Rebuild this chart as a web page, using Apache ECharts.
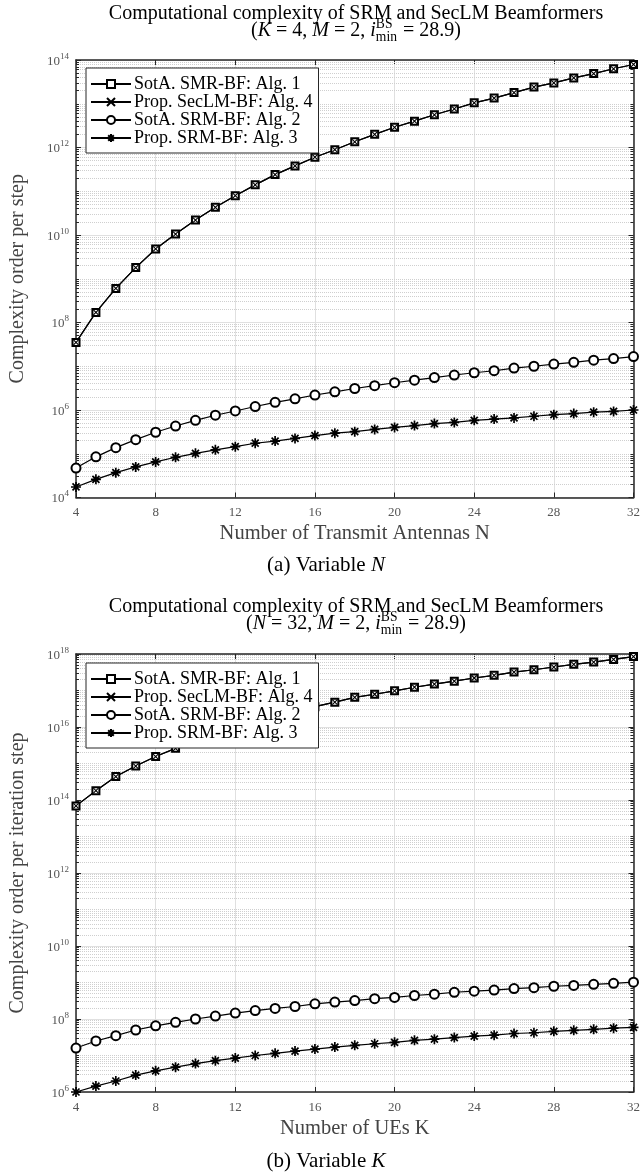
<!DOCTYPE html>
<html lang="en">
<head>
<meta charset="UTF-8">
<title>Computational complexity of SRM and SecLM Beamformers</title>
<style>
    html, body { margin: 0; padding: 0; background: #fff; }
    #main { width: 643px; height: 1176px; }
</style>
</head>
<body>
<div id="main"></div>
<script src="https://cdn.jsdelivr.net/npm/echarts@6/dist/echarts.min.js"></script>
<script type="text/javascript">
var antennasN = [4, 5, 6, 7, 8, 9, 10, 11, 12, 13, 14, 15, 16, 17, 18, 19, 20, 21, 22, 23, 24, 25, 26, 27, 28, 29, 30, 31, 32];
var usersK = [4, 5, 6, 7, 8, 9, 10, 11, 12, 13, 14, 15, 16, 17, 18, 19, 20, 21, 22, 23, 24, 25, 26, 27, 28, 29, 30, 31, 32];

// (a) variable N
var smrVsN = [3.5e7, 1.7e8, 6.0e8, 1.8e9, 4.8e9, 1.05e10, 2.2e10, 4.3e10, 7.9e10, 1.4e11, 2.4e11, 3.8e11, 6.0e11, 8.9e11, 1.35e12, 2.0e12, 2.9e12, 4.0e12, 5.6e12, 7.6e12, 1.05e13, 1.35e13, 1.8e13, 2.4e13, 3.0e13, 3.9e13, 4.9e13, 6.3e13, 7.9e13];
var seclmVsN = [3.5e7, 1.7e8, 6.0e8, 1.8e9, 4.8e9, 1.05e10, 2.2e10, 4.3e10, 7.9e10, 1.4e11, 2.4e11, 3.8e11, 6.0e11, 8.9e11, 1.35e12, 2.0e12, 2.9e12, 4.0e12, 5.6e12, 7.6e12, 1.05e13, 1.35e13, 1.8e13, 2.4e13, 3.0e13, 3.9e13, 4.9e13, 6.3e13, 7.9e13];
var srm2VsN = [4.7e4, 8.5e4, 1.38e5, 2.1e5, 3.1e5, 4.3e5, 5.8e5, 7.6e5, 9.5e5, 1.2e6, 1.5e6, 1.8e6, 2.2e6, 2.6e6, 3.1e6, 3.6e6, 4.2e6, 4.8e6, 5.5e6, 6.3e6, 7.1e6, 7.9e6, 9.1e6, 1.0e7, 1.12e7, 1.23e7, 1.38e7, 1.5e7, 1.66e7];
var srm3VsN = [1.74e4, 2.6e4, 3.7e4, 5.0e4, 6.5e4, 8.3e4, 1.02e5, 1.23e5, 1.45e5, 1.74e5, 1.95e5, 2.24e5, 2.6e5, 2.95e5, 3.2e5, 3.6e5, 4.0e5, 4.4e5, 4.9e5, 5.2e5, 5.8e5, 6.2e5, 6.6e5, 7.2e5, 7.8e5, 8.3e5, 8.9e5, 9.3e5, 1.0e6];

// (b) variable K
var smrVsK = [6.9e13, 1.8e14, 4.4e14, 8.5e14, 1.55e15, 2.6e15, 4.0e15, 6.0e15, 8.9e15, 1.3e16, 1.8e16, 2.6e16, 3.6e16, 4.8e16, 6.5e16, 7.9e16, 9.8e16, 1.23e17, 1.5e17, 1.8e17, 2.2e17, 2.6e17, 3.2e17, 3.7e17, 4.4e17, 5.2e17, 6.0e17, 7.1e17, 8.5e17];
var seclmVsK = [6.9e13, 1.8e14, 4.4e14, 8.5e14, 1.55e15, 2.6e15, 4.0e15, 6.0e15, 8.9e15, 1.3e16, 1.8e16, 2.6e16, 3.6e16, 4.8e16, 6.5e16, 7.9e16, 9.8e16, 1.23e17, 1.5e17, 1.8e17, 2.2e17, 2.6e17, 3.2e17, 3.7e17, 4.4e17, 5.2e17, 6.0e17, 7.1e17, 8.5e17];
var srm2VsK = [1.6e7, 2.5e7, 3.5e7, 5.0e7, 6.5e7, 8.1e7, 1.0e8, 1.2e8, 1.45e8, 1.7e8, 1.95e8, 2.2e8, 2.6e8, 2.9e8, 3.2e8, 3.6e8, 3.9e8, 4.4e8, 4.8e8, 5.4e8, 5.8e8, 6.2e8, 6.8e8, 7.2e8, 7.9e8, 8.3e8, 8.9e8, 9.5e8, 1.02e9];
var srm3VsK = [1.0e6, 1.45e6, 2.0e6, 2.9e6, 3.8e6, 4.8e6, 6.0e6, 7.2e6, 8.5e6, 1.0e7, 1.15e7, 1.32e7, 1.5e7, 1.7e7, 1.9e7, 2.1e7, 2.3e7, 2.6e7, 2.8e7, 3.1e7, 3.4e7, 3.6e7, 4.0e7, 4.2e7, 4.6e7, 4.9e7, 5.2e7, 5.6e7, 5.9e7];

var seriesNames = ['SotA. SMR-BF: Alg. 1', 'Prop. SecLM-BF: Alg. 4', 'SotA. SRM-BF: Alg. 2', 'Prop. SRM-BF: Alg. 3'];

var serif = 'Liberation Serif';
var frame = '#262626';
var grey = '#555';

var myChart = echarts.init(document.getElementById('main'));

var ctx = document.createElement('canvas').getContext('2d');
function textWidth(str, size, italic) {
    ctx.font = (italic ? 'italic ' : '') + size + 'px "' + serif + '"';
    return ctx.measureText(str).width;
}

// pieces of a centred line of text, some italic, one optional stacked script
function textLine(parts, cx, cy, size) {
    var total = 0;
    parts.forEach(function (p) {
        if (p.sup) {
            p.w = Math.max(textWidth(p.sup, size * 0.68), textWidth(p.sub, size * 0.68)) + 1;
        } else {
            p.w = textWidth(p.t, size, p.it);
        }
        total += p.w;
    });
    var x = cx - total / 2;
    var els = [];
    parts.forEach(function (p) {
        if (p.sup) {
            els.push({ type: 'text', x: x, y: cy - 7, style: { text: p.sup, fontFamily: serif, fontSize: size * 0.68, fill: '#000', verticalAlign: 'middle' } });
            els.push({ type: 'text', x: x, y: cy + 6, style: { text: p.sub, fontFamily: serif, fontSize: size * 0.68, fill: '#000', verticalAlign: 'middle' } });
        } else {
            els.push({ type: 'text', x: x, y: cy, style: { text: p.t, fontFamily: serif, fontSize: size, fontStyle: p.it ? 'italic' : 'normal', fill: '#000', verticalAlign: 'middle' } });
        }
        x += p.w;
    });
    return els;
}

function subtitle(first, value, cy) {
    return textLine([
        { t: '(' }, { t: first, it: true }, { t: ' = ' + value + ', ' },
        { t: 'M', it: true }, { t: ' = 2, ' }, { t: 'i', it: true },
        { sup: 'BS', sub: 'min' }, { t: ' = 28.9)' }
    ], 356, cy, 20);
}

var graphics = [];
graphics.push({ type: 'text', x: 356, y: 14, style: { text: 'Computational complexity of SRM and SecLM Beamformers', fontFamily: serif, fontSize: 20, fill: '#000', align: 'center', verticalAlign: 'middle' } });
graphics = graphics.concat(subtitle('K', '4', 31));
graphics = graphics.concat(textLine([{ t: '(a) Variable ' }, { t: 'N', it: true }], 326, 565, 21));
graphics.push({ type: 'text', x: 356, y: 607, style: { text: 'Computational complexity of SRM and SecLM Beamformers', fontFamily: serif, fontSize: 20, fill: '#000', align: 'center', verticalAlign: 'middle' } });
graphics = graphics.concat(subtitle('N', '32', 624));
graphics = graphics.concat(textLine([{ t: '(b) Variable ' }, { t: 'K', it: true }], 326, 1161, 21));

var grids = [
    { left: 75, right: 6, top: 60, height: 437.5 },
    { left: 75, right: 6, top: 654, height: 438 }
];
var yRanges = [[1e4, 1e14], [1e6, 1e18]];
var xNames = ['Number of Transmit Antennas N', 'Number of UEs K'];
var yNames = ['Complexity order per step', 'Complexity order per iteration step'];

var xAxes = [], yAxes = [];
grids.forEach(function (g, i) {
    var line = { show: true, onZero: false, lineStyle: { color: frame, width: 1.5 } };
    var tick = { show: true, inside: true, length: 5, lineStyle: { color: frame, width: 1 } };
    xAxes.push({
        gridIndex: i, type: 'value', min: 4, max: 32, interval: 4, position: 'bottom',
        name: xNames[i], nameLocation: 'middle', nameGap: 26,
        nameTextStyle: { fontFamily: serif, fontSize: 20.5, color: '#444' },
        axisLine: line, axisTick: tick,
        axisLabel: { fontFamily: serif, fontSize: 13, color: grey, margin: 9 },
        splitLine: { show: true, lineStyle: { color: '#e0e0e0', width: 1 } }
    });
    xAxes.push({
        gridIndex: i, type: 'value', min: 4, max: 32, interval: 4, position: 'top',
        axisLine: line, axisTick: tick, axisLabel: { show: false }, splitLine: { show: false }
    });
    yAxes.push({
        gridIndex: i, type: 'log', logBase: 10, min: yRanges[i][0], max: yRanges[i][1], interval: 2, position: 'left',
        name: yNames[i], nameLocation: 'middle', nameGap: 48,
        nameTextStyle: { fontFamily: serif, fontSize: 20, color: '#444' },
        axisLine: line, axisTick: tick,
        axisLabel: {
            margin: 7,
            formatter: function (v) {
                return '{b|10}{s|' + Math.round(Math.log10(v)) + '}';
            },
            rich: {
                b: { fontFamily: serif, fontSize: 13, color: grey, lineHeight: 16, verticalAlign: 'bottom' },
                s: { fontFamily: serif, fontSize: 9, color: grey, lineHeight: 16, verticalAlign: 'top' }
            }
        },
        splitLine: { show: true, lineStyle: { color: '#e0e0e0', width: 1 } }
    });
    yAxes.push({
        gridIndex: i, type: 'log', logBase: 10, min: yRanges[i][0], max: yRanges[i][1], interval: 2, position: 'right',
        axisLine: line, axisTick: tick, axisLabel: { show: false }, splitLine: { show: false }
    });
});

// minor decade grid lines and minor ticks at m * 10^k
function minorValues(range) {
    var out = [];
    var lo = Math.round(Math.log10(range[0])), hi = Math.round(Math.log10(range[1]));
    for (var k = lo; k < hi; k++) {
        for (var m = 1; m <= 9; m++) {
            if (m === 1 && (k - lo) % 2 === 0) continue;
            out.push(m * Math.pow(10, k));
        }
    }
    return out;
}

function lineSeries(name, xs, ys, gi, kind) {
    var s = {
        name: name, type: 'line', xAxisIndex: 2 * gi, yAxisIndex: 2 * gi, z: 3,
        data: xs.map(function (x, i) { return [x, ys[i]]; }),
        lineStyle: { color: '#000', width: 1.2, type: 'solid' },
        itemStyle: { color: '#000', borderColor: '#000', borderWidth: 1 },
        symbolKeepAspect: true,
        emphasis: { disabled: true },
        animation: false
    };
    if (kind === 'square') { s.symbol = 'emptyRect'; s.symbolSize = 7; }
    if (kind === 'cross') { s.symbol = 'path://M0,0L10,10M10,0L0,10'; s.symbolSize = 5; s.itemStyle.borderWidth = 1.1; }
    if (kind === 'circle') { s.symbol = 'emptyCircle'; s.symbolSize = 9; }
    if (kind === 'star') { s.symbol = 'path://M5,0L5,10M0,5L10,5M1.5,1.5L8.5,8.5M8.5,1.5L1.5,8.5'; s.symbolSize = 10; s.itemStyle.borderWidth = 1.7; }
    return s;
}

var series = [];
var sets = [
    [antennasN, smrVsN, seclmVsN, srm2VsN, srm3VsN],
    [usersK, smrVsK, seclmVsK, srm2VsK, srm3VsK]
];
sets.forEach(function (d, gi) {
    var minors = minorValues(yRanges[gi]);
    var tickData = [];
    minors.forEach(function (v) {
        tickData.push([{ coord: [4, v] }, { coord: [4.15, v] }]);
        tickData.push([{ coord: [31.85, v] }, { coord: [32, v] }]);
    });
    var first = lineSeries(seriesNames[0], d[0], d[1], gi, 'square');
    first.markLine = {
        silent: true, symbol: 'none', label: { show: false }, animation: false, z: 1,
        lineStyle: { color: '#cfcfcf', type: 'dotted', width: 1 },
        data: minors.map(function (v) { return { yAxis: v }; })
    };
    var second = lineSeries(seriesNames[1], d[0], d[2], gi, 'cross');
    var third = lineSeries(seriesNames[2], d[0], d[3], gi, 'circle');
    third.markLine = {
        silent: true, symbol: 'none', label: { show: false }, animation: false, z: 1,
        lineStyle: { color: frame, type: 'solid', width: 1 },
        data: tickData
    };
    var fourth = lineSeries(seriesNames[3], d[0], d[4], gi, 'star');
    series.push(first, second, third, fourth);
});

function legendAt(top) {
    return {
        data: seriesNames, orient: 'vertical', left: 86, top: top, z: 10,
        backgroundColor: '#fff', borderColor: frame, borderWidth: 1,
        padding: [7, 6, 6, 4], itemWidth: 40, itemHeight: 10, itemGap: 0,
        selectedMode: false,
        textStyle: { fontFamily: serif, fontSize: 18, color: '#000', lineHeight: 16, padding: [0, 0, 0, -2] }
    };
}

var option = {
    backgroundColor: '#fff',
    animation: false,
    grid: grids,
    xAxis: xAxes,
    yAxis: yAxes,
    legend: [legendAt(68), legendAt(663)],
    graphic: graphics,
    series: series
};
myChart.setOption(option);
window.addEventListener('resize', function () {
    myChart.resize();
});
</script>
</body>
</html>
